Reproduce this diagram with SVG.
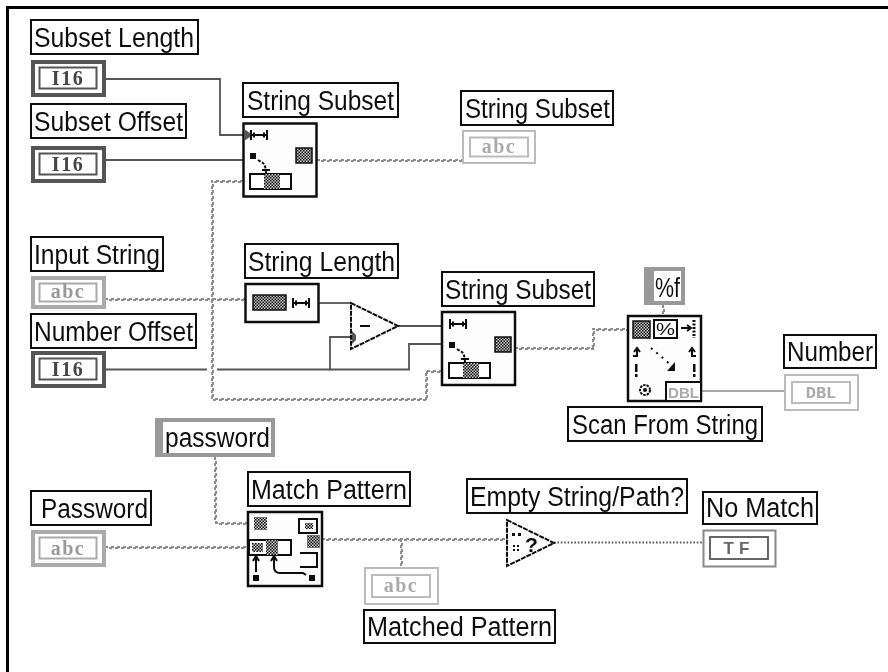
<svg xmlns="http://www.w3.org/2000/svg" xmlns:xlink="http://www.w3.org/1999/xlink" width="888" height="672" viewBox="0 0 888 672">
<style>
text{font-family:"Liberation Sans",Arial,sans-serif}
.lb rect{fill:#fff;stroke:#111;stroke-width:2}
.lb text{font-size:27px;fill:#111}
.node{fill:#fdfdfd;stroke:#111;stroke-width:2.5}
.ic{fill:none;stroke:#111;stroke-width:2}
.k{fill:#111}
.h{fill:url(#chk);stroke:#111;stroke-width:1.500}
.num{fill:none;stroke:#555;stroke-width:1.8}
.sa,.sb{fill:none;stroke:#8c8c8c;stroke-width:2;stroke-dasharray:3 3}
.sb{stroke-dashoffset:3}
.t{font-family:"Liberation Serif",serif;font-weight:bold;font-size:20px;text-anchor:middle;letter-spacing:1.500px}
</style>
<defs>
<filter id="soft" filterUnits="userSpaceOnUse" x="0" y="0" width="888" height="672"><feGaussianBlur stdDeviation="0.35"/></filter>
<pattern id="chk" width="3" height="3" patternUnits="userSpaceOnUse"><rect width="3" height="3" fill="#ccc"/><rect width="1.5" height="1.5" fill="#111"/><rect x="1.5" y="1.5" width="1.5" height="1.5" fill="#111"/></pattern>
<g id="len"><rect x="0" y="-5" width="2" height="10" class="k"/><rect x="16" y="-5" width="2" height="10" class="k"/><rect x="2" y="-1" width="14" height="2" class="k"/><rect x="3" y="-2.5" width="2" height="5" class="k"/><rect x="13" y="-2.5" width="2" height="5" class="k"/></g>
<g id="subset">
<use xlink:href="#len" x="7" y="12"/>
<rect x="7" y="30" width="6" height="6" class="k"/>
<path d="M15 37 L20 40 Q23 43 23 51" class="ic" stroke-dasharray="3 1.5"/>
<path d="M19 47 H27" class="ic"/>
<rect x="7" y="51" width="41" height="15" fill="#fff" stroke="#111" stroke-width="2"/>
<rect x="21" y="51" width="16" height="15" fill="url(#chk)"/>
<rect x="53" y="25" width="16" height="15" class="h"/>
</g>
<path id="w1" d="M243 181H212V399H426V371H442"/>
<path id="w2" d="M105 299H245"/>
<path id="w3" d="M317 160H463"/>
<path id="w4" d="M515 348H593V329H628"/>
<path id="w5" d="M663 305V316"/>
<path id="w6" d="M215 457V523H248"/>
<path id="w7" d="M105 547H248"/>
<path id="w8" d="M322 539H506"/>
<path id="w9" d="M401 539V567"/>
</defs>
<rect width="888" height="672" fill="#fff"/>
<g id="diagram" filter="url(#soft)">
<path d="M888 7.500H7.500V672" fill="none" stroke="#000" stroke-width="3"/>

<g id="connectors">
<path class="num" d="M105 79H220V135H243"/>
<path class="num" d="M105 160H243"/>
<path class="num" d="M105 369.500H207M217 369.500H330V337H352"/>
<path class="num" d="M330 369.500H409V344H442"/>
<path class="num" d="M319 303H351"/>
<path class="num" d="M398 326H442"/>
<g class="sa"><use xlink:href="#w1"/><use xlink:href="#w2"/><use xlink:href="#w3"/><use xlink:href="#w4"/><use xlink:href="#w5"/><use xlink:href="#w6"/><use xlink:href="#w7"/><use xlink:href="#w8"/><use xlink:href="#w9"/></g>
<g class="sb" transform="translate(1 1)"><use xlink:href="#w1"/><use xlink:href="#w2"/><use xlink:href="#w3"/><use xlink:href="#w4"/><use xlink:href="#w5"/><use xlink:href="#w6"/><use xlink:href="#w7"/><use xlink:href="#w8"/><use xlink:href="#w9"/></g>
<path d="M701 391H784" fill="none" stroke="#aaa" stroke-width="1.8"/>
<path d="M554 542.500H703" fill="none" stroke="#555" stroke-width="1.800" stroke-dasharray="1.600 1.800"/>
</g>

<g id="label-subset-length" class="lb"><rect x="31" y="20" width="167" height="34"/><text x="34" y="47" textLength="160" lengthAdjust="spacingAndGlyphs">Subset Length</text></g>
<g id="ctl-subset-length"><rect x="33" y="62" width="71" height="33" fill="#fff" stroke="#555" stroke-width="4"/><rect x="39.500" y="67.500" width="57" height="21" fill="#fff" stroke="#555" stroke-width="2"/><text class="t" x="68" y="85" fill="#444">I16</text></g>
<g id="label-subset-offset" class="lb"><rect x="31" y="104" width="155" height="34"/><text x="34" y="131" textLength="149" lengthAdjust="spacingAndGlyphs">Subset Offset</text></g>
<g id="ctl-subset-offset"><rect x="33" y="148" width="71" height="33" fill="#fff" stroke="#555" stroke-width="4"/><rect x="39.500" y="153.500" width="57" height="21" fill="#fff" stroke="#555" stroke-width="2"/><text class="t" x="68" y="171" fill="#444">I16</text></g>
<g id="label-input-string" class="lb"><rect x="31" y="237" width="132" height="34"/><text x="34" y="264" textLength="126" lengthAdjust="spacingAndGlyphs">Input String</text></g>
<g id="ctl-input-string"><rect x="33" y="278" width="71" height="29" fill="#fff" stroke="#aaa" stroke-width="4"/><rect x="39.500" y="283.500" width="57" height="18" fill="#fff" stroke="#aaa" stroke-width="2"/><text class="t" x="68" y="298" fill="#999">abc</text></g>
<g id="label-number-offset" class="lb"><rect x="31" y="314" width="165" height="34"/><text x="34" y="341" textLength="159" lengthAdjust="spacingAndGlyphs">Number Offset</text></g>
<g id="ctl-number-offset"><rect x="33" y="353" width="71" height="33" fill="#fff" stroke="#555" stroke-width="4"/><rect x="39.500" y="358.500" width="57" height="21" fill="#fff" stroke="#555" stroke-width="2"/><text class="t" x="68" y="376" fill="#444">I16</text></g>

<g id="node-string-subset-1">
<g class="lb"><rect x="243" y="83" width="155" height="34"/><text x="247" y="110" textLength="147" lengthAdjust="spacingAndGlyphs">String Subset</text></g>
<rect class="node" x="243.500" y="123.500" width="73" height="73"/>
<use xlink:href="#subset" x="243" y="123"/>
<path d="M244 129L250 133V137L244 141Z" fill="#555"/>
</g>
<g id="ind-string-subset">
<g class="lb"><rect x="461" y="91" width="152" height="34"/><text x="465" y="118" textLength="145" lengthAdjust="spacingAndGlyphs">String Subset</text></g>
<rect x="463" y="131" width="72" height="32" fill="#fff" stroke="#bbb" stroke-width="2"/><rect x="470" y="137.500" width="58" height="19" fill="#fff" stroke="#bbb" stroke-width="2"/><text class="t" x="499" y="153" fill="#aaa">abc</text>
</g>
<g id="node-string-length">
<g class="lb"><rect x="245" y="244" width="153" height="34"/><text x="248" y="271" textLength="147" lengthAdjust="spacingAndGlyphs">String Length</text></g>
<rect class="node" x="245.500" y="284" width="73" height="38"/>
<rect x="253" y="295" width="33" height="15" class="h"/>
<use xlink:href="#len" x="292" y="303"/>
</g>
<g id="node-subtract">
<path d="M351 303L398 326L351 349Z" fill="#fdfdfd" stroke="#111" stroke-width="2" stroke-dasharray="5 1"/>
<rect x="360" y="325" width="10" height="2" class="k"/>
<path d="M352 331L356 335V340L352 344Z" fill="#555"/>
</g>
<g id="node-string-subset-2">
<g class="lb"><rect x="442" y="272" width="152" height="34"/><text x="445" y="299" textLength="146" lengthAdjust="spacingAndGlyphs">String Subset</text></g>
<rect class="node" x="442" y="312" width="73" height="73"/>
<use xlink:href="#subset" x="442" y="312"/>
</g>
<g id="const-format">
<rect x="646" y="269" width="37" height="34" fill="#fff" stroke="#999" stroke-width="4"/><rect x="644" y="267" width="10" height="38" fill="#999"/>
<text x="655" y="297" font-size="27" fill="#111" textLength="25" lengthAdjust="spacingAndGlyphs">%f</text>
</g>
<g id="node-scan">
<rect class="node" x="628" y="316" width="73" height="85"/>
<rect x="633" y="321" width="17" height="17" class="h"/>
<rect x="654" y="320" width="23" height="18" fill="#fff" stroke="#111" stroke-width="2"/>
<text x="656" y="335" font-size="16" fill="#111" textLength="19" lengthAdjust="spacingAndGlyphs">%</text>
<path d="M681 328H690M687 325L691 328L687 331" class="ic"/>
<path d="M694 320V338" stroke="#111" stroke-width="3" stroke-dasharray="2 1.500"/>
<path d="M633 356H637V350M634 352L637 348L640 352" class="ic"/>
<path d="M696 356H692V350M689 352L692 348L695 352" class="ic"/>
<path d="M651 348L671 365" stroke="#111" stroke-width="2" stroke-dasharray="2 5"/>
<path d="M675 362V371H667Z" class="k"/>
<rect x="635" y="364" width="2.500" height="8" class="k"/><rect x="635" y="374" width="2.500" height="3" class="k"/>
<rect x="693" y="364" width="2.500" height="8" class="k"/><rect x="693" y="374" width="2.500" height="3" class="k"/>
<circle cx="645" cy="390" r="5" fill="none" stroke="#111" stroke-width="2" stroke-dasharray="2.500 1"/><circle cx="645" cy="390" r="2" class="k"/>
<rect x="666" y="382" width="35" height="19" fill="#fff" stroke="#111" stroke-width="2"/>
<text x="668" y="398" font-size="15" font-weight="bold" fill="#aaa" textLength="31" lengthAdjust="spacingAndGlyphs">DBL</text>
<g class="lb"><rect x="568" y="407" width="194" height="34"/><text x="572" y="434" textLength="186" lengthAdjust="spacingAndGlyphs">Scan From String</text></g>
</g>
<g id="ind-number">
<g class="lb"><rect x="784" y="335" width="92" height="33"/><text x="787" y="361" textLength="86" lengthAdjust="spacingAndGlyphs">Number</text></g>
<rect x="785" y="375" width="73" height="35" fill="#fff" stroke="#bbb" stroke-width="2"/><rect x="792" y="382" width="58" height="21" fill="#fff" stroke="#bbb" stroke-width="2"/><text class="t" x="821" y="398" fill="#aaa" style="font-family:'Liberation Mono',monospace;font-size:17px;letter-spacing:0">DBL</text>
</g>
<g id="const-password">
<rect x="157" y="420" width="116" height="35" fill="#fff" stroke="#999" stroke-width="4"/><rect x="155" y="418" width="8" height="39" fill="#999"/>
<text x="165" y="447" font-size="27" fill="#111" textLength="105" lengthAdjust="spacingAndGlyphs">password</text>
</g>
<g id="label-password" class="lb"><rect x="31" y="491" width="120" height="34"/><text x="41" y="518" textLength="107" lengthAdjust="spacingAndGlyphs">Password</text></g>
<g id="ctl-password"><rect x="33" y="532" width="71" height="33" fill="#fff" stroke="#aaa" stroke-width="4"/><rect x="39.500" y="537.500" width="57" height="21" fill="#fff" stroke="#aaa" stroke-width="2"/><text class="t" x="68" y="555" fill="#999">abc</text></g>
<g id="node-match">
<g class="lb"><rect x="248" y="472" width="162" height="34"/><text x="251" y="499" textLength="156" lengthAdjust="spacingAndGlyphs">Match Pattern</text></g>
<rect class="node" x="248" y="512" width="74" height="74"/>
<rect x="254" y="517" width="13" height="13" fill="url(#chk)"/>
<rect x="299" y="519" width="18" height="14" fill="#fff" stroke="#111" stroke-width="2"/>
<rect x="305" y="523" width="8" height="6" fill="url(#chk)"/>
<rect x="307" y="535" width="13" height="13" fill="url(#chk)"/>
<rect x="249" y="540" width="42" height="15" fill="#fff" stroke="#111" stroke-width="2"/>
<rect x="252" y="543" width="11" height="9" fill="url(#chk)"/>
<rect x="266" y="540" width="12" height="15" fill="url(#chk)"/>
<path d="M300 553H317V567H300" class="ic"/>
<path d="M256 572V558M253 561L256 556L259 561" class="ic"/>
<path d="M274 558V567Q274 573 280 573H303L306 575M271 561L274 556L277 561" class="ic"/>
<rect x="253" y="575" width="6" height="6" class="k"/>
<rect x="309" y="575" width="6" height="6" class="k"/>
</g>
<g id="ind-matched">
<rect x="365" y="568" width="73" height="36" fill="#fff" stroke="#bbb" stroke-width="2"/><rect x="372" y="575" width="58" height="22" fill="#fff" stroke="#bbb" stroke-width="2"/><text class="t" x="401" y="592" fill="#aaa">abc</text>
<g class="lb"><rect x="364" y="610" width="191" height="33"/><text x="367" y="636" textLength="185" lengthAdjust="spacingAndGlyphs">Matched Pattern</text></g>
</g>
<g id="node-empty">
<g class="lb"><rect x="467" y="479" width="220" height="34"/><text x="470" y="506" textLength="214" lengthAdjust="spacingAndGlyphs">Empty String/Path?</text></g>
<path d="M507 520L554 543L507 566Z" fill="#fdfdfd" stroke="#111" stroke-width="2" stroke-dasharray="5 1"/>
<text x="525" y="552" font-size="21" font-weight="bold" fill="#111">?</text>
<path d="M512 533h3v3h-3zM518 533h3v3h-3z" class="k"/>
<path d="M513 545h2v2h-2zM517 545h2v2h-2zM513 549h2v2h-2zM517 549h2v2h-2z" class="k"/>
</g>
<g id="ind-no-match">
<g class="lb"><rect x="703" y="492" width="114" height="32"/><text x="706" y="517" textLength="108" lengthAdjust="spacingAndGlyphs">No Match</text></g>
<rect x="703.500" y="530.500" width="72" height="36" fill="#fff" stroke="#888" stroke-width="2"/><rect x="710" y="537" width="58" height="22" fill="#fff" stroke="#666" stroke-width="2"/><text class="t" x="739" y="554" fill="#666" style="font-family:'Liberation Sans',sans-serif;font-size:17px;letter-spacing:5px">TF</text>
</g>
</g>
</svg>
